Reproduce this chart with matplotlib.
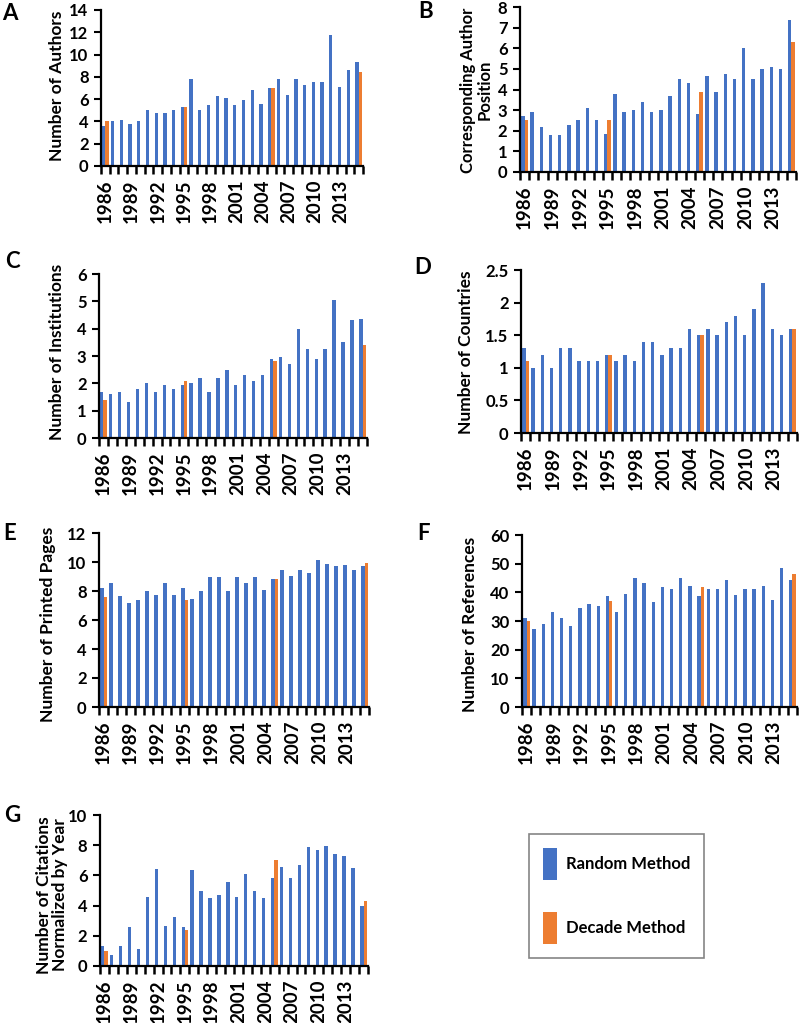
import matplotlib
matplotlib.use("Agg")
import matplotlib.pyplot as plt
import numpy as np

plt.rcParams['font.family'] = ['Lato', 'DejaVu Sans']
plt.rcParams['font.weight'] = 'bold'

years = list(range(1986, 2016))
tick_years = list(range(1986, 2016, 3))[:10]
decade_years = [1986, 1995, 2005, 2015]

authors_random = [3.6, 4.0, 4.1, 3.8, 4.0, 5.0, 4.8, 4.8, 5.0, 5.3,
                  7.8, 5.0, 5.5, 6.3, 6.1, 5.5, 5.9, 6.8, 5.6, 7.0,
                  7.8, 6.4, 7.8, 7.3, 7.5, 7.5, 11.8, 7.1, 8.6, 9.3]
authors_decade = [4.0, 5.3, 7.0, 8.4]

corr_random = [2.7, 2.9, 2.2, 1.8, 1.8, 2.3, 2.5, 3.1, 2.5, 1.85,
               3.8, 2.9, 3.0, 3.4, 2.9, 3.0, 3.7, 4.5, 4.3, 2.8,
               4.65, 3.9, 4.75, 4.5, 6.0, 4.5, 5.0, 5.1, 5.0, 7.35]
corr_decade = [2.5, 2.5, 3.9, 6.3]

inst_random = [1.7, 1.6, 1.7, 1.3, 1.8, 2.0, 1.7, 1.95, 1.8, 1.95,
               2.0, 2.2, 1.7, 2.2, 2.5, 1.95, 2.3, 2.1, 2.3, 2.9,
               2.95, 2.7, 4.0, 3.25, 2.9, 3.25, 5.05, 3.5, 4.3, 4.35]
inst_decade = [1.4, 2.1, 2.8, 3.4]

countries_random = [1.3, 1.0, 1.2, 1.0, 1.3, 1.3, 1.1, 1.1, 1.1, 1.2,
                    1.1, 1.2, 1.1, 1.4, 1.4, 1.2, 1.3, 1.3, 1.6, 1.5,
                    1.6, 1.5, 1.7, 1.8, 1.5, 1.9, 2.3, 1.6, 1.5, 1.6]
countries_decade = [1.1, 1.2, 1.5, 1.6]

pages_random = [8.2, 8.55, 7.65, 7.2, 7.35, 8.0, 7.75, 8.55, 7.75, 8.2,
                7.45, 8.0, 8.95, 8.95, 8.0, 8.95, 8.55, 8.95, 8.1, 8.8,
                9.45, 9.05, 9.45, 9.25, 10.15, 9.85, 9.7, 9.8, 9.45, 9.7]
pages_decade = [7.6, 7.35, 8.85, 9.95]

refs_random = [31, 27.3, 29, 33.3, 31, 28.2, 34.5, 36, 35.2, 38.7,
               33.3, 39.5, 45, 43.3, 36.7, 41.8, 41, 45, 42.2, 38.7,
               41.3, 41.3, 44.2, 39, 41.3, 41.3, 42.2, 37.2, 48.5, 44.2]
refs_decade = [30, 36.9, 42, 46.3]

cites_random = [1.3, 0.75, 1.35, 2.6, 1.1, 4.6, 6.4, 2.65, 3.25, 2.6,
                6.35, 4.95, 4.5, 4.7, 5.55, 4.6, 6.1, 4.95, 4.5, 5.85,
                6.55, 5.85, 6.7, 7.9, 7.65, 7.95, 7.4, 7.3, 6.5, 3.95]
cites_decade = [1.0, 2.4, 7.0, 4.3]

BLUE = '#4472C4'
ORANGE = '#ED7D31'
W, H = 800, 1023
FW = 'bold'

fig = plt.figure(figsize=(8, 10.23), dpi=100)


def px_axes(left, top, right, bottom):
    return fig.add_axes([left / W, 1 - bottom / H, (right - left) / W, (bottom - top) / H])


panels = [
    ('A', authors_random, authors_decade, 'Number of Authors', 14, 2, (101, 10, 363, 166), (10, 14), (57, 86), 12.5),
    ('B', corr_random, corr_decade, 'Corresponding Author\nPosition', 8, 1, (520, 7, 796, 172), (426, 12), (476, 90), 12),
    ('C', inst_random, inst_decade, 'Number of Institutions', 6, 1, (99, 274, 367, 438), (12, 262), (57, 352), 12.5),
    ('D', countries_random, countries_decade, 'Number of Countries', 2.5, 0.5, (521, 270, 797, 433), (423, 267), (466, 352), 12.5),
    ('E', pages_random, pages_decade, 'Number of Printed Pages', 12, 2, (99, 533, 369, 707), (10, 533), (48, 624), 12.5),
    ('F', refs_random, refs_decade, 'Number of References', 60, 10, (522, 535, 797, 707), (423, 534), (470, 624), 12.5),
    ('G', cites_random, cites_decade, 'Number of Citations\nNormalized by Year', 10, 2, (100, 815, 368, 966), (12, 815), (52, 895), 12.5),
]

x = np.arange(len(years))
bw = 0.37
dec_idx = np.array([years.index(y) for y in decade_years])
handles = None
for letter, rnd, dec, ylabel, ymax, ystep, box, lpos, ylpos, ylsize in panels:
    ax = px_axes(*box)
    hb = ax.bar(x - bw / 2, rnd, width=bw, color=BLUE, label='Random Method')
    ho = ax.bar(dec_idx + bw / 2, dec, width=bw, color=ORANGE, label='Decade Method')
    if handles is None:
        handles = [hb, ho]
    ax.set_xlim(-0.5, len(years) - 0.5)
    ax.set_ylim(0, ymax)
    yt = np.arange(0, ymax + ystep / 2, ystep)
    ax.set_yticks(yt)
    ax.set_yticklabels([('%g' % v) for v in yt], fontsize=12, fontweight=FW)
    ax.set_xticks(np.arange(-0.5, len(years), 1.0))
    ax.set_xticklabels([])
    ax.set_xticks([years.index(y) for y in tick_years], minor=True)
    ax.set_xticklabels([str(y) for y in tick_years], minor=True, rotation=90,
                       fontsize=13.5, fontweight=FW)
    ax.tick_params(axis='x', which='major', direction='out', length=6, width=1.8, color='black')
    ax.tick_params(axis='x', which='minor', length=0, pad=9.5)
    ax.tick_params(axis='y', direction='out', length=5, width=1.5, pad=4)
    for s in ['top', 'right']:
        ax.spines[s].set_visible(False)
    for s in ['left', 'bottom']:
        ax.spines[s].set_linewidth(1.6)
    fig.text(lpos[0] / W, 1 - lpos[1] / H, letter, fontsize=16, fontweight=FW,
             ha='center', va='center')
    fig.text(ylpos[0] / W, 1 - ylpos[1] / H, ylabel, fontsize=ylsize, fontweight=FW,
             rotation=90, ha='center', va='center', multialignment='center',
             linespacing=1.05)

leg = fig.legend(handles, ['Random Method', 'Decade Method'],
                 loc='upper left', bbox_to_anchor=(529 / W, 1 - 834 / H),
                 frameon=True, fancybox=False, edgecolor='#666666',
                 prop={'size': 12, 'weight': FW},
                 handlelength=0.85, handleheight=2.55, labelspacing=1.95,
                 borderpad=0.85, handletextpad=0.5, borderaxespad=0)
leg.get_frame().set_linewidth(1.2)

fig.savefig('out.png', dpi=100)
